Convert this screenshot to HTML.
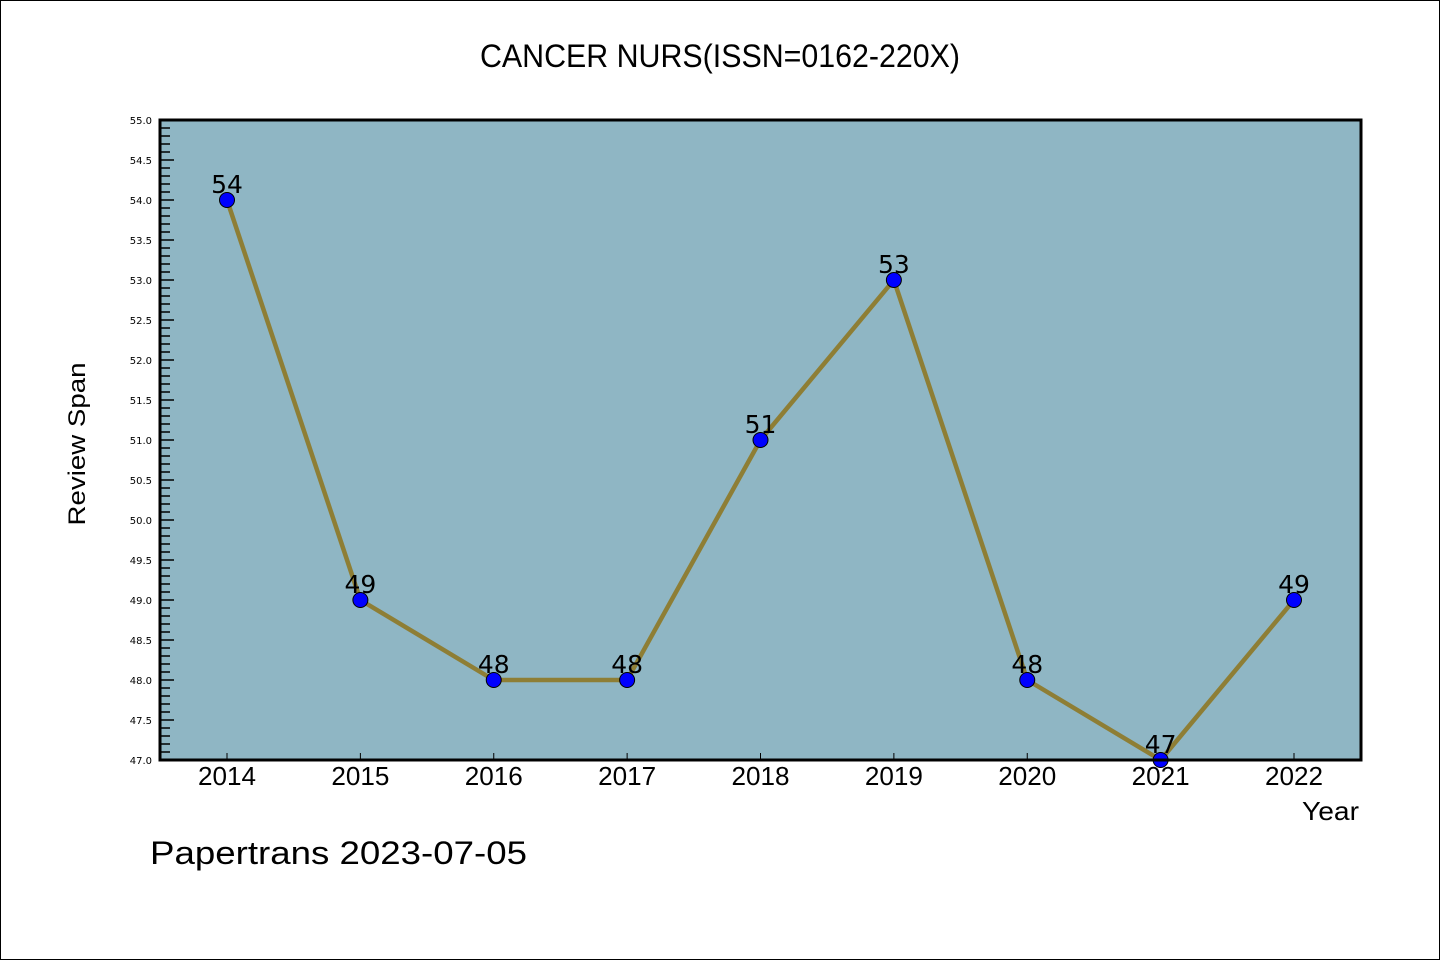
<!DOCTYPE html>
<html><head><meta charset="utf-8"><style>
html,body{margin:0;padding:0;background:#fff}
svg{display:block}
</style></head><body>
<svg id="chart" width="1440" height="960" xmlns="http://www.w3.org/2000/svg">
<rect x="0.5" y="0.5" width="1439" height="959" fill="#fff" stroke="#000" stroke-width="1"/>
<text x="720" y="67" text-anchor="middle" font-family="'WenQuanYi Zen Hei','Liberation Sans',sans-serif" font-size="32" textLength="480" lengthAdjust="spacingAndGlyphs">CANCER NURS(ISSN=0162-220X)</text>
<rect x="160" y="120" width="1201" height="640" fill="#8fb6c4"/>
<g id="yticks"></g><g id="xticks"></g>
<g id="series"></g>
<rect x="160" y="120" width="1201" height="640" fill="none" stroke="#000" stroke-width="3"/>
<text transform="translate(85,444) rotate(-90)" text-anchor="middle" font-family="'WenQuanYi Zen Hei','Liberation Sans',sans-serif" font-size="24" textLength="163" lengthAdjust="spacingAndGlyphs">Review Span</text>
<text x="1359" y="820" text-anchor="end" font-family="'WenQuanYi Zen Hei','Liberation Sans',sans-serif" font-size="26" textLength="57" lengthAdjust="spacingAndGlyphs">Year</text>
<text x="150" y="864" font-family="'WenQuanYi Zen Hei','Liberation Sans',sans-serif" font-size="32" textLength="377" lengthAdjust="spacingAndGlyphs">Papertrans 2023-07-05</text>
</svg>
<script>
const years = ["2014","2015","2016","2017","2018","2019","2020","2021","2022"];
const values = [54,49,48,48,51,53,48,47,49];
const yTickLabels = ["47.0","47.5","48.0","48.5","49.0","49.5","50.0","50.5","51.0","51.5","52.0","52.5","53.0","53.5","54.0","54.5","55.0"];
(function(){
const NS="http://www.w3.org/2000/svg";
const yMin=47,yMax=55,pTop=120,pBottom=760,pLeft=160;
function sy(v){return pBottom-(v-yMin)/(yMax-yMin)*(pBottom-pTop);}
function sx(i){return 227+i*(1294-227)/(years.length-1);}
function mk(t,a,p){const e=document.createElementNS(NS,t);for(const k in a)e.setAttribute(k,a[k]);p.appendChild(e);return e;}
const yt=document.getElementById('yticks');
for(let k=0;k<=80;k++){const v=yMin+k*0.1;const major=k%5===0;
 const l=mk('line',{x1:pLeft,x2:pLeft+(major?14:10),y1:sy(v),y2:sy(v),stroke:'#000','stroke-width':1.5},yt);
 
 }
yTickLabels.forEach(s=>{const t=mk('text',{x:152,y:sy(parseFloat(s))+4,'text-anchor':'end','font-family':'DejaVu Sans,sans-serif','font-size':10},yt);t.textContent=s;
 
 });
const xt=document.getElementById('xticks');
years.forEach((yr,i)=>{const l=mk('line',{x1:sx(i),x2:sx(i),y1:pBottom,y2:pBottom-7,stroke:'#000','stroke-width':1},xt);
 
 
 const t=mk('text',{x:sx(i),y:785,'text-anchor':'middle','font-family':"'WenQuanYi Zen Hei','Liberation Sans',sans-serif",'font-size':26,textLength:58,lengthAdjust:'spacingAndGlyphs'},xt);t.textContent=yr;
 
 });
const s=document.getElementById('series');
const pl=mk('polyline',{points:values.map((v,i)=>sx(i)+','+sy(v)).join(' '),fill:'none',stroke:'#8e7e35','stroke-width':4.5,'stroke-linejoin':'round'},s);


values.forEach((v,i)=>{const c=mk('circle',{cx:sx(i),cy:sy(v),r:7.5,fill:'#0000ff',stroke:'#000','stroke-width':1},s);
 
 
 const t=mk('text',{x:sx(i),y:sy(v)-7,'text-anchor':'middle','font-family':'DejaVu Sans,sans-serif','font-size':25},s);t.textContent=String(v);
 
 });
})();
</script>
</body></html>
